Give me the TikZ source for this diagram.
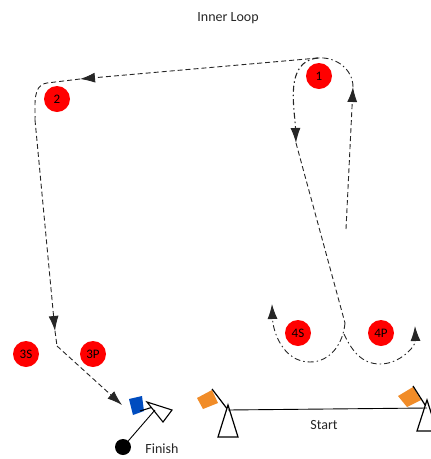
\documentclass[tikz,border=0pt]{standalone}
\usepackage{fontspec}
\setmainfont{Carlito}
\usetikzlibrary{arrows.meta}

\begin{document}
\begin{tikzpicture}[x=1pt,y=-1pt,
		buoy/.style = {shape=circle, fill=red, text=black, minimum size=26pt, inner sep=0pt, font=\fontsize{13}{13}\selectfont},
		caption/.style = {text=black!85, inner sep=0pt, font=\fontsize{14}{14}\selectfont},
		dashline/.style = {draw=black!85, line width=0.9pt, dash pattern=on 5pt off 3pt},
		dotline/.style = {draw=black!85, line width=0.9pt, dash pattern=on 6pt off 3pt on 1.5pt off 3pt},
		tip/.style = {-{Latex[length=15pt,width=10pt]}},
		flagbox/.style = {fill=orange!75!brown!90, draw=none},
		post/.style = {draw=black, line width=1.2pt, fill=white}]

	\clip (0,0) rectangle (431,459);

	% buoys
	\node[caption] (title) at (228,18) {Inner Loop};
	\node[buoy] (m1) at (319,76) {1};
	\node[buoy] (m2) at (57,99) {2};
	\node[buoy] (m3s) at (26,354) {3S};
	\node[buoy] (m3p) at (93,354) {3P};
	\node[buoy] (m4s) at (298,333) {4S};
	\node[buoy] (m4p) at (381,333) {4P};

	% way points
	\coordinate (a0) at (346,229);
	\coordinate (a1) at (353,87);
	\coordinate (a2) at (318,58);
	\coordinate (a3) at (80,79);
	\coordinate (a4) at (35,120);
	\coordinate (a5) at (55,331);
	\coordinate (a6) at (57,346);
	\coordinate (a7) at (122,405);
	\coordinate (b1) at (296,143);
	\coordinate (b2) at (345,323);
	\coordinate (c1) at (272,304);
	\coordinate (d0) at (344,334);
	\coordinate (d1) at (415,326);

	% outer path
	\draw[dashline, tip] (a0) -- (a1);
	\draw[dotline] (a1) to[out=90, in=5] (a2);
	\draw[dashline, tip] (a2) -- (a3);
	\draw[dashline] (a3) -- (47,83) to[out=188, in=88] (a4);
	\draw[dashline, tip] (a4) -- (a5);
	\draw[dashline] (a5) -- (a6);
	\draw[dashline, tip] (a6) -- (a7);

	% inner loop
	\draw[dotline, tip, line width=1.1pt] (a2) to[out=185, in=92] (b1);
	\draw[dashline] (b1) -- (b2);
	\draw[dotline, tip] (b2) to[out=-95, in=0] (310,362) to[out=180, in=-88] (c1);
	\draw[dotline, tip] (d0) to[out=-65, in=180] (380,364) to[out=0, in=-88] (d1);

	% finish
	\node[shape=circle, fill=black, minimum size=16pt, inner sep=0pt] (dot) at (123,447) {};
	\node[caption] (finish) at (162,449) {Finish};
	\coordinate (s1) at (129,399);
	\coordinate (s2) at (142,396);
	\coordinate (s3) at (144,411);
	\coordinate (s4) at (133,415);
	\fill[blue!60!cyan!75!black] (s1) -- (s2) -- (s3) -- (s4) -- cycle;
	\draw[line width=1.1pt] (140,411) -- (153,407);
	\draw[line width=1.1pt, fill=white] (147,402) -- (172,410) -- (163,422) -- cycle;
	\draw[line width=0.9pt] (dot) -- (155,410);

	% start gate
	\coordinate (g1) at (228,410);
	\coordinate (g2) at (427,408);
	\fill[flagbox] (197,398) -- (212,390) -- (218,403) -- (203,409) -- cycle;
	\fill[flagbox] (398,396) -- (413,387) -- (421,400) -- (407,407) -- cycle;
	\draw[line width=1.2pt] (212,389) -- (g1);
	\draw[line width=1.2pt] (413,386) -- (g2);
	\draw[post] (228,405) -- (238,437) -- (218,437) -- cycle;
	\draw[post] (427,400) -- (437,431) -- (417,431) -- cycle;
	\draw[line width=0.9pt] (g1) -- (g2);
	\node[caption] (start) at (324,425) {Start};
\end{tikzpicture}
\end{document}
